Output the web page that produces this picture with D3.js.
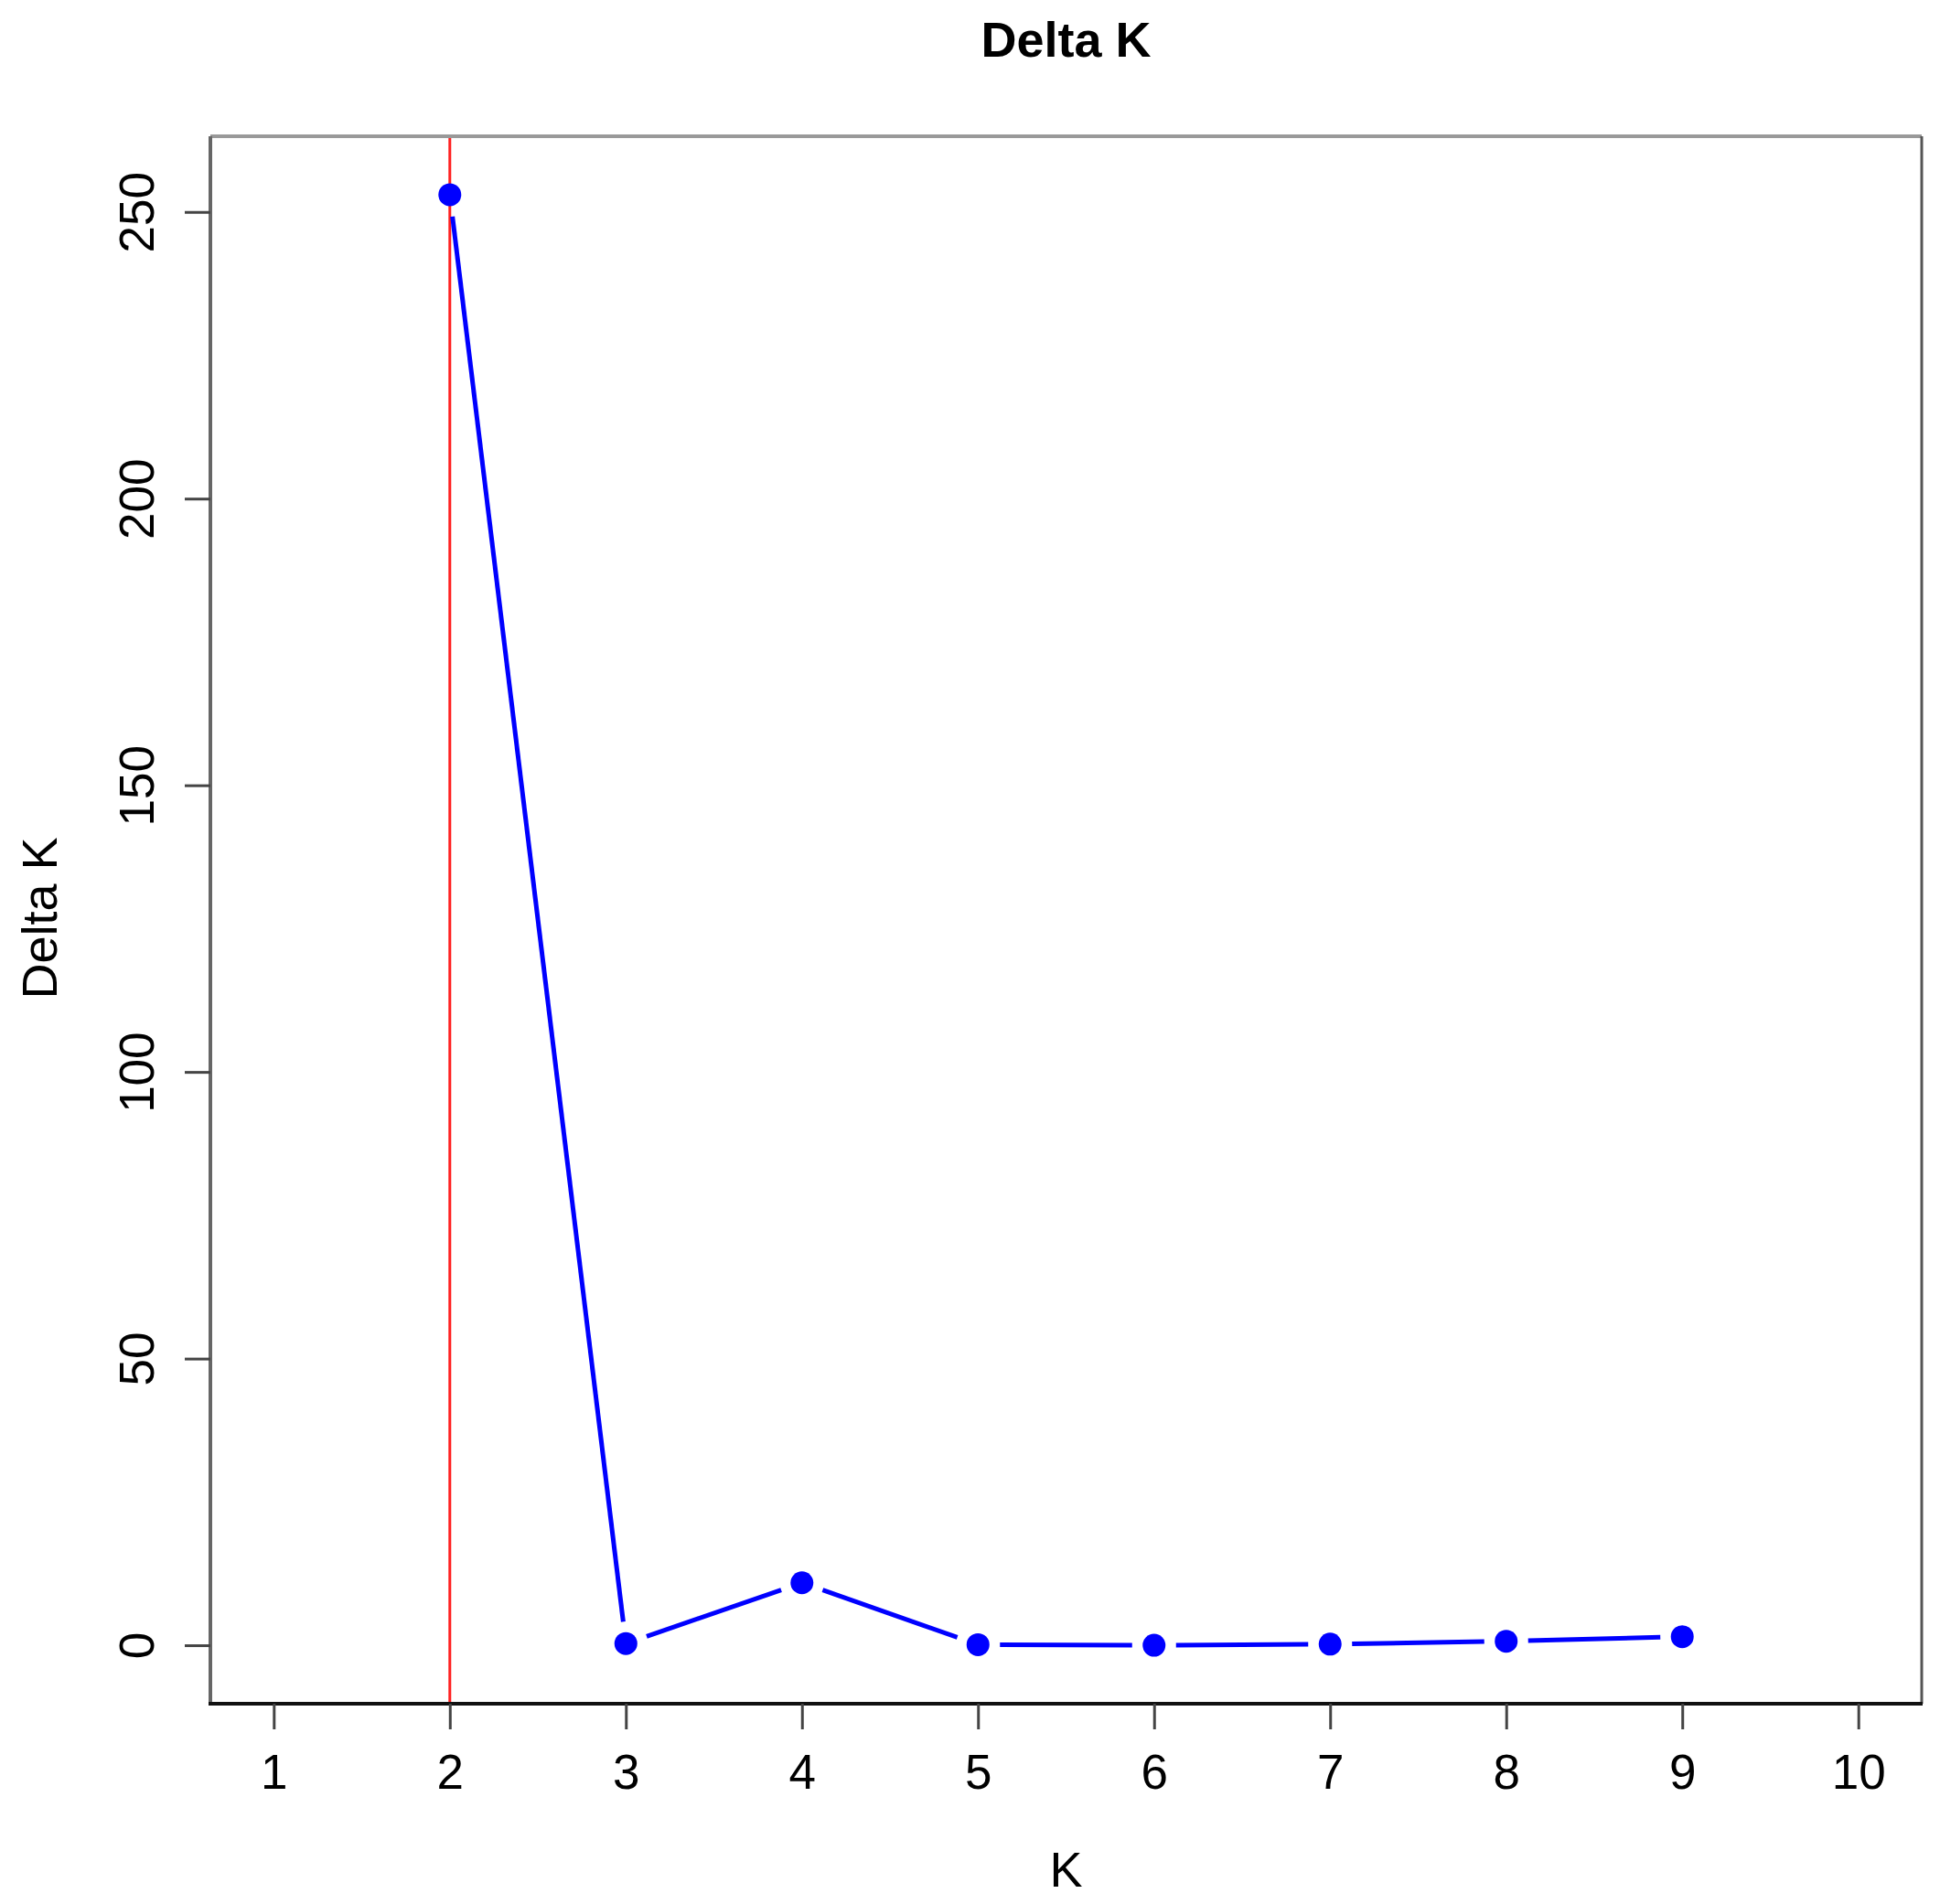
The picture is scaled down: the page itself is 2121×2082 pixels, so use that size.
<!DOCTYPE html>
<html>
<head>
<meta charset="utf-8">
<script src="https://cdn.jsdelivr.net/npm/d3@7"></script>
<style>
  html, body { margin: 0; padding: 0; background: #fff; }
  svg { display: block; }
  text { font-family: "Liberation Sans", Arial, Helvetica, sans-serif; fill: #000; }
</style>
</head>
<body>
<script>
// ---- data ----
const kValues = [2, 3, 4, 5, 6, 7, 8, 9];
const deltaK = [253.0, 0.3, 10.9, 0.1, 0.0, 0.2, 0.7, 1.5];
const xTicks = [1, 2, 3, 4, 5, 6, 7, 8, 9, 10];
const yTicks = [0, 50, 100, 150, 200, 250];
const bestK = [2];
const titleText = "Delta K";
const xLabel = "K";
const yLabel = "Delta K";

// ---- layout ----
const W = 2121, H = 2082;
const box = { left: 230, right: 2101, top: 149, bottom: 1863 };

const svg = d3.select("body").append("svg").attr("width", W).attr("height", H);

const x = d3.scaleLinear().domain([0.64, 10.36]).range([box.left, box.right]);
const y = d3.scaleLinear().domain([-10.2, 263.2]).range([box.bottom, box.top]);

// red reference line
svg.selectAll("line.best").data(bestK).enter().append("line")
  .attr("class", "best")
  .attr("x1", d => x(d)).attr("x2", d => x(d))
  .attr("y1", box.top).attr("y2", box.bottom)
  .attr("stroke", "#ff2020").attr("stroke-width", 3);

// line segments with gaps (R type="b")
const pts = kValues.map((k, i) => [x(k), y(deltaK[i])]);
const gap = 24;
const segs = [];
for (let i = 0; i < pts.length - 1; i++) {
  const [x1, y1] = pts[i], [x2, y2] = pts[i + 1];
  const dx = x2 - x1, dy = y2 - y1, L = Math.hypot(dx, dy);
  if (L > 2 * gap) {
    const ux = dx / L, uy = dy / L;
    segs.push([x1 + ux * gap, y1 + uy * gap, x2 - ux * gap, y2 - uy * gap]);
  }
}
svg.selectAll("line.seg").data(segs).enter().append("line")
  .attr("class", "seg")
  .attr("x1", d => d[0]).attr("y1", d => d[1])
  .attr("x2", d => d[2]).attr("y2", d => d[3])
  .attr("stroke", "#0000ff").attr("stroke-width", 5);

// points
svg.selectAll("circle.pt").data(kValues).enter().append("circle")
  .attr("class", "pt")
  .attr("cx", d => x(d))
  .attr("cy", (d, i) => y(deltaK[i]))
  .attr("r", 12.5)
  .attr("fill", "#0000ff");

// box
const bx = svg.append("g");
bx.append("line").attr("x1", box.left).attr("x2", box.right).attr("y1", box.top).attr("y2", box.top)
  .attr("stroke", "#999").attr("stroke-width", 4);
bx.append("line").attr("x1", box.left).attr("x2", box.left).attr("y1", box.top).attr("y2", box.bottom)
  .attr("stroke", "#666").attr("stroke-width", 4);
bx.append("line").attr("x1", box.right).attr("x2", box.right).attr("y1", box.top).attr("y2", box.bottom)
  .attr("stroke", "#555").attr("stroke-width", 3);
bx.append("line").attr("x1", box.left - 2).attr("x2", box.right + 1).attr("y1", box.bottom).attr("y2", box.bottom)
  .attr("stroke", "#111").attr("stroke-width", 4);

// x axis
const xAxis = d3.axisBottom(x).tickValues(xTicks).tickSize(28).tickPadding(27).tickFormat(d3.format("d"));
const gx = svg.append("g").attr("transform", `translate(0,${box.bottom})`).call(xAxis);
gx.select(".domain").remove();
gx.selectAll(".tick line").attr("stroke", "#444").attr("stroke-width", 3);
gx.selectAll(".tick text").attr("font-size", 53).attr("fill", "#000")
  .attr("font-family", "Liberation Sans, Arial, sans-serif");

// y axis
const yAxis = d3.axisLeft(y).tickValues(yTicks).tickSize(28).tickPadding(0).tickFormat(d3.format("d"));
const gy = svg.append("g").attr("transform", `translate(${box.left},0)`).call(yAxis);
gy.select(".domain").remove();
gy.selectAll(".tick line").attr("stroke", "#444").attr("stroke-width", 3);
gy.selectAll(".tick text")
  .attr("font-size", 53).attr("fill", "#000")
  .attr("font-family", "Liberation Sans, Arial, sans-serif")
  .attr("x", null).attr("dy", null)
  .attr("text-anchor", "middle")
  .attr("transform", "translate(-62,0) rotate(-90)");

// title
svg.append("text").attr("x", (box.left + box.right) / 2).attr("y", 62)
  .attr("text-anchor", "middle").attr("font-size", 54).attr("font-weight", "bold")
  .text(titleText);

// x label
svg.append("text").attr("x", (box.left + box.right) / 2).attr("y", 2063)
  .attr("text-anchor", "middle").attr("font-size", 54)
  .text(xLabel);

// y label
svg.append("text").attr("transform", `translate(62,${(box.top + box.bottom) / 2 - 2}) rotate(-90)`)
  .attr("text-anchor", "middle").attr("font-size", 54)
  .text(yLabel);
</script>
</body>
</html>
